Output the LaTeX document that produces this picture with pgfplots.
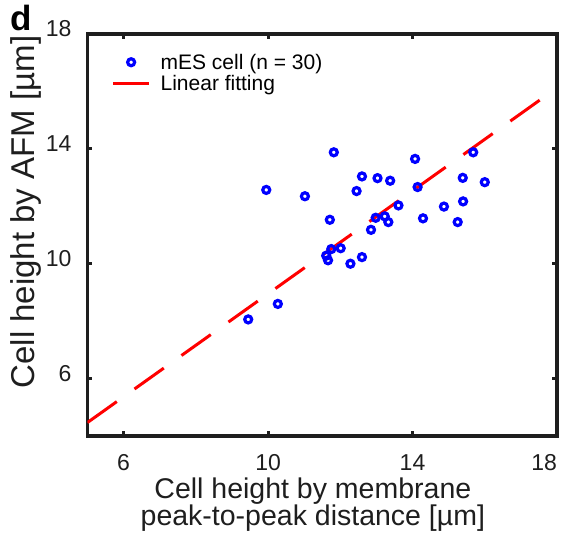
\documentclass[border=0pt]{standalone}
\usepackage{pgfplots}
\pgfplotsset{compat=1.18}
\usepackage{fontspec}
\setmainfont{Liberation Sans}
\definecolor{axgray}{RGB}{30,30,30}
\pgfplotsset{
  scatleg/.style={legend image code/.code={\draw[##1] plot coordinates {(18bp,0bp)};}},
  lineleg/.style={legend image code/.code={\draw[##1] (0bp,0bp) -- (36bp,0bp);}},
}
\begin{document}
\begin{tikzpicture}
\path[use as bounding box] (-87.5bp,-102bp) rectangle (473.5bp,436bp);
\begin{axis}[
  at={(0,0)}, anchor=south west,
  scale only axis, width=469.5bp, height=402bp,
  xmin=5, xmax=18, ymin=4, ymax=18,
  xtick={6,10,14,18}, ytick={6,10,14,18},
  xticklabels={6,10,14,\llap{18}},
  /pgf/number format/assume math mode=true,
  tick align=inside, major tick length=5bp,
  axis line style={draw=axgray, line width=3.2bp},
  every outer x axis line/.append style={line width=3.2bp},
  every outer y axis line/.append style={line width=3.2bp},
  every axis/.append style={line width=3.2bp},
  every tick/.style={axgray, line width=3bp},
  tick label style={font=\fontsize{23bp}{23bp}\selectfont, text=axgray},
  xticklabel style={inner sep=0pt, yshift=-17bp},
  yticklabel style={inner sep=0pt, xshift=-14.5bp, yshift=5bp},
  xlabel={Cell height by membrane\\peak-to-peak distance [µm]},
  xlabel style={at={(axis description cs:0.480,-0.0995)}, anchor=north, inner sep=0pt,
    align=center, font=\fontsize{28.5bp}{26bp}\selectfont, text=axgray},
  ylabel={Cell height by AFM [µm]},
  ylabel style={at={(axis description cs:-0.131,0.557)}, anchor=center, inner sep=0pt,
    font=\fontsize{33bp}{33bp}\selectfont, text=axgray},
  legend style={draw=none, fill=none, at={(axis description cs:0.048,0.957)}, anchor=north west,
    inner sep=0pt, font=\fontsize{21bp}{21bp}\selectfont, row sep=3bp, column sep=9bp,
    nodes={inner sep=1bp, text=black}},
  legend cell align=left,
]
\addplot[only marks, mark=o, mark size=3.5bp, color=blue, mark options={line width=3.2bp}, scatleg]
coordinates {
(9.45,8.06) (10.27,8.60) (9.95,12.57) (11.02,12.35) (11.82,13.88)
(11.71,11.53) (11.61,10.28) (11.66,10.12) (11.75,10.51) (12.01,10.54)
(12.28,10.00) (12.60,10.23) (12.45,12.53) (12.60,13.04) (13.03,12.98)
(13.38,12.89) (12.85,11.18) (12.98,11.60) (13.23,11.65) (13.33,11.45)
(13.61,12.03) (14.07,13.65) (14.14,12.67) (14.29,11.58) (14.87,11.99)
(15.25,11.45) (15.39,12.99) (15.40,12.17) (15.68,13.88) (16.00,12.84)
};
\addlegendentry{mES cell (n = 30)}
\addplot[color=red, line width=3bp, dash pattern=on 36bp off 21.7bp, lineleg]
coordinates {(5,4.47) (17.57,15.74)};
\addlegendentry{Linear fitting}
\end{axis}
\node[font=\bfseries\fontsize{35bp}{35bp}\selectfont, inner sep=0pt] at (-66.5bp,418bp) {d};
\end{tikzpicture}
\end{document}
